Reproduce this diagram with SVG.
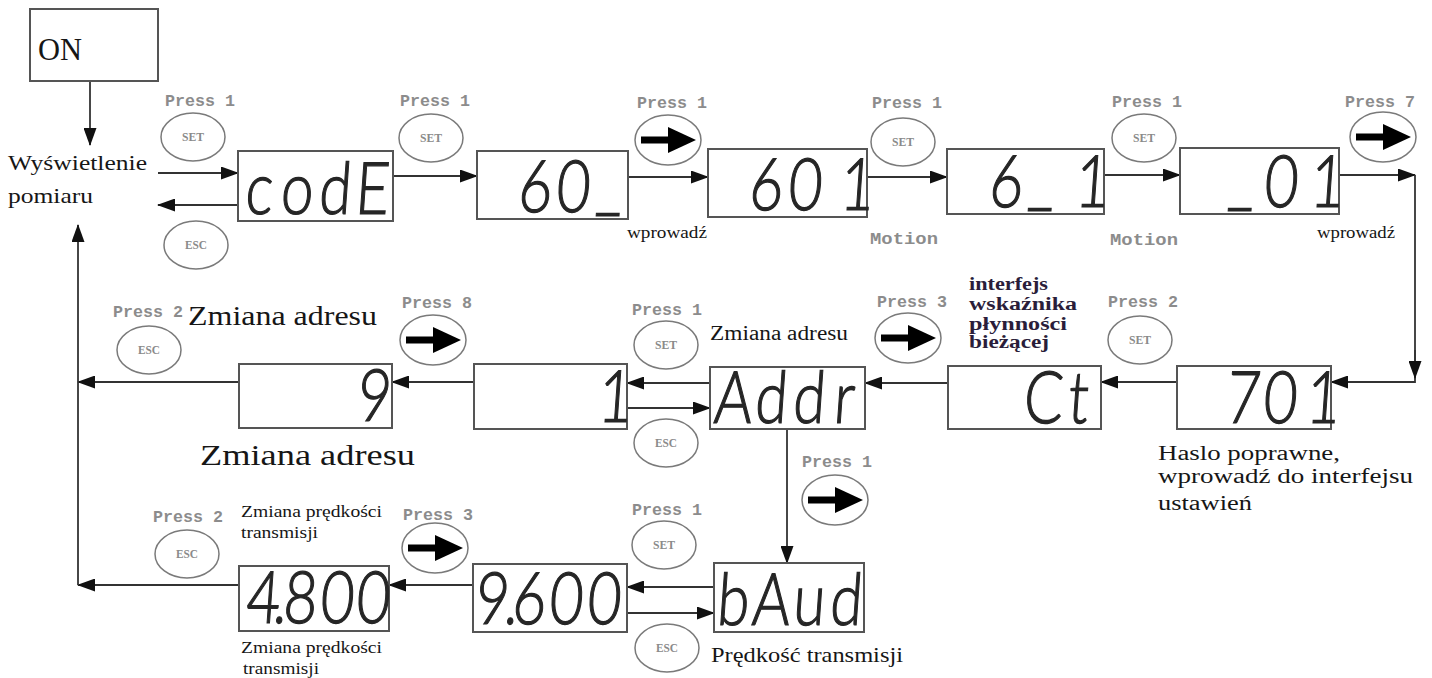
<svg xmlns="http://www.w3.org/2000/svg" width="1432" height="678" viewBox="0 0 1432 678">
  <defs>
    <style>
      .frame { fill: #fff; stroke: #555; stroke-width: 2; }
      .lcd { font-family: Lato, "DejaVu Sans", sans-serif; font-weight: 300; font-size: 58px; fill: #262626; stroke: #262626; stroke-width: 1; text-anchor: middle; }
      .btn { fill: #fff; stroke: #7a7a7a; stroke-width: 1.5; }
      .key { font-family: "Liberation Serif", serif; font-size: 12px; font-weight: bold; fill: #8a8a8a; text-anchor: middle; }
      .press { font-family: "Liberation Mono", monospace; font-size: 16px; font-weight: bold; fill: #8c8c8c; }
      .motion { font-family: "Liberation Mono", monospace; font-size: 17px; font-weight: bold; fill: #8c8c8c; }
      .lbl { font-family: "Liberation Serif", serif; fill: #161616; }
      .bold { font-family: "Liberation Serif", serif; font-weight: bold; fill: #2a1d3a; font-size: 18px; }
      .wire { fill: none; stroke: #333; stroke-width: 1.8; }
      .arr { marker-end: url(#ah); }
      .arrowglyph { fill: #000; }
    </style>
    <marker id="ah" markerUnits="userSpaceOnUse" markerWidth="18" markerHeight="13" refX="17" refY="6.5" orient="auto">
      <path d="M0,0 L18,6.5 L0,13 z" fill="#111"/>
    </marker>
    <!-- round push-buttons -->
    <g id="btnSet"><ellipse class="btn" cx="0" cy="0" rx="32" ry="24"/><text class="key" x="0" y="4" textLength="22" lengthAdjust="spacingAndGlyphs">SET</text></g>
    <g id="btnEsc"><ellipse class="btn" cx="0" cy="0" rx="32" ry="24"/><text class="key" x="0" y="4" textLength="22" lengthAdjust="spacingAndGlyphs">ESC</text></g>
    <g id="btnRight"><ellipse class="btn" cx="0" cy="0" rx="33" ry="25"/><rect class="arrowglyph" x="-27" y="-3.5" width="30" height="7"/><path class="arrowglyph" d="M0,-13 L28,0 L0,13 z"/></g>
  </defs>

  <rect width="1432" height="678" fill="#fff"/>

  <!-- connectors -->
  <g id="connectors">
    <path class="wire arr" d="M90,81 V145"/>
    <path class="wire arr" d="M158,173 H238"/>
    <path class="wire arr" d="M238,205 H158"/>
    <path class="wire arr" d="M393,176 H477"/>
    <path class="wire arr" d="M628,177 H708"/>
    <path class="wire arr" d="M867,177 H947"/>
    <path class="wire arr" d="M1104,175 H1180"/>
    <path class="wire arr" d="M1339,175 H1415"/>
    <path class="wire arr" d="M1415,175 V382 H1331"/>
    <path class="wire arr" d="M1415,350 V378"/>
    <path class="wire arr" d="M1177,382 H1101"/>
    <path class="wire arr" d="M948,383 H865"/>
    <path class="wire arr" d="M710,383 H627"/>
    <path class="wire arr" d="M627,408 H710"/>
    <path class="wire arr" d="M474,382 H392"/>
    <path class="wire arr" d="M239,382 H78"/>
    <path class="wire arr" d="M787,429 V563"/>
    <path class="wire arr" d="M714,587 H627"/>
    <path class="wire arr" d="M627,613 H714"/>
    <path class="wire arr" d="M473,585 H389"/>
    <path class="wire arr" d="M239,585 H78"/>
    <path class="wire arr" d="M78,585 V225"/>
  </g>

  <!-- power on -->
  <g id="node-on">
    <rect class="frame" x="30" y="9" width="128" height="72"/>
    <text class="lbl" x="38" y="60" font-size="32" textLength="44" lengthAdjust="spacingAndGlyphs">ON</text>
  </g>

  <!-- measurement display -->
  <g id="node-measure">
    <text class="lbl" x="8" y="170" font-size="22" textLength="139" lengthAdjust="spacingAndGlyphs">Wyświetlenie</text>
    <text class="lbl" x="8" y="203" font-size="22" textLength="85" lengthAdjust="spacingAndGlyphs">pomiaru</text>
  </g>

  <!-- LCD screens: each glyph centred on its digit cell, slightly slanted -->
  <g id="lcd-code">
    <rect class="frame" x="238" y="151" width="155" height="70"/>
    <g transform="translate(0,214) scale(1,1.25) skewX(-5)"><text class="lcd" x="258 296 334 371" y="0">codE</text></g>
  </g>
  <g id="lcd-60">
    <rect class="frame" x="477" y="151" width="151" height="68"/>
    <g transform="translate(0,212) scale(1,1.25) skewX(-5)"><text class="lcd" x="534 572 608" y="0" dy="0 0 -5">60_</text></g>
  </g>
  <g id="lcd-601">
    <rect class="frame" x="708" y="149" width="159" height="68"/>
    <g transform="translate(0,210) scale(1,1.25) skewX(-5)"><text class="lcd" x="765 804 856" y="0">601</text></g>
  </g>
  <g id="lcd-6_1">
    <rect class="frame" x="947" y="149" width="157" height="65"/>
    <g transform="translate(0,207) scale(1,1.25) skewX(-5)"><text class="lcd" x="1005 1040 1091" y="0" dy="0 -5 5">6_1</text></g>
  </g>
  <g id="lcd-_01">
    <rect class="frame" x="1180" y="148" width="159" height="66"/>
    <g transform="translate(0,207) scale(1,1.25) skewX(-5)"><text class="lcd" x="1240 1280 1326" y="0" dy="-5 5 0">_01</text></g>
  </g>
  <g id="lcd-701">
    <rect class="frame" x="1177" y="366" width="154" height="63"/>
    <g transform="translate(0,423) scale(1,1.25) skewX(-5)"><text class="lcd" x="1242 1279 1322" y="0">701</text></g>
  </g>
  <g id="lcd-ct">
    <rect class="frame" x="948" y="366" width="153" height="63"/>
    <g transform="translate(0,423) scale(1,1.25) skewX(-5)"><text class="lcd" x="1042 1077" y="0">Ct</text></g>
  </g>
  <g id="lcd-addr">
    <rect class="frame" x="710" y="367" width="155" height="62"/>
    <g transform="translate(0,423) scale(1,1.25) skewX(-5)"><text class="lcd" x="732 770 808 843" y="0">Addr</text></g>
  </g>
  <g id="lcd-1">
    <rect class="frame" x="474" y="364" width="153" height="65"/>
    <g transform="translate(0,422) scale(1,1.25) skewX(-5)"><text class="lcd" x="614" y="0">1</text></g>
  </g>
  <g id="lcd-9">
    <rect class="frame" x="239" y="364" width="153" height="64"/>
    <g transform="translate(0,421) scale(1,1.25) skewX(-5)"><text class="lcd" x="373" y="0">9</text></g>
  </g>
  <g id="lcd-baud">
    <rect class="frame" x="714" y="563" width="150" height="69"/>
    <g transform="translate(0,625) scale(1,1.25) skewX(-5)"><text class="lcd" x="732 770 808 845" y="0">bAud</text></g>
  </g>
  <g id="lcd-9600">
    <rect class="frame" x="473" y="564" width="154" height="68"/>
    <g transform="translate(0,624) scale(1,1.25) skewX(-5)"><text class="lcd" x="491 510 528 565 603" y="0">9.600</text></g>
  </g>
  <g id="lcd-4800">
    <rect class="frame" x="239" y="566" width="150" height="65"/>
    <g transform="translate(0,623) scale(1,1.25) skewX(-5)"><text class="lcd" x="262 279 299 336 372" y="0">4.800</text></g>
  </g>

  <!-- keys and press counts, top row -->
  <g id="key-set-1"><text class="press" x="165" y="106" textLength="70" lengthAdjust="spacingAndGlyphs">Press 1</text><use href="#btnSet" x="193" y="137"/></g>
  <g id="key-esc-1"><use href="#btnEsc" x="196" y="245"/></g>
  <g id="key-set-2"><text class="press" x="400" y="106" textLength="70" lengthAdjust="spacingAndGlyphs">Press 1</text><use href="#btnSet" x="431" y="138"/></g>
  <g id="key-right-1"><text class="press" x="637" y="108" textLength="70" lengthAdjust="spacingAndGlyphs">Press 1</text><use href="#btnRight" x="668" y="140"/></g>
  <g id="key-set-3"><text class="press" x="872" y="108" textLength="70" lengthAdjust="spacingAndGlyphs">Press 1</text><use href="#btnSet" x="903" y="142"/></g>
  <g id="key-set-4"><text class="press" x="1112" y="107" textLength="70" lengthAdjust="spacingAndGlyphs">Press 1</text><use href="#btnSet" x="1144" y="138"/></g>
  <g id="key-right-7"><text class="press" x="1345" y="107" textLength="70" lengthAdjust="spacingAndGlyphs">Press 7</text><use href="#btnRight" x="1383" y="137"/></g>

  <!-- middle row -->
  <g id="key-esc-2"><text class="press" x="113" y="317" textLength="70" lengthAdjust="spacingAndGlyphs">Press 2</text><use href="#btnEsc" x="149" y="350"/></g>
  <g id="key-right-8"><text class="press" x="402" y="308" textLength="70" lengthAdjust="spacingAndGlyphs">Press 8</text><use href="#btnRight" x="433" y="340"/></g>
  <g id="key-set-5"><text class="press" x="632" y="315" textLength="70" lengthAdjust="spacingAndGlyphs">Press 1</text><use href="#btnSet" x="666" y="345"/></g>
  <g id="key-esc-3"><use href="#btnEsc" x="666" y="443"/></g>
  <g id="key-right-3"><text class="press" x="877" y="307" textLength="70" lengthAdjust="spacingAndGlyphs">Press 3</text><use href="#btnRight" x="908" y="338"/></g>
  <g id="key-set-6"><text class="press" x="1108" y="307" textLength="70" lengthAdjust="spacingAndGlyphs">Press 2</text><use href="#btnSet" x="1140" y="340"/></g>
  <g id="key-right-1b"><text class="press" x="802" y="467" textLength="70" lengthAdjust="spacingAndGlyphs">Press 1</text><use href="#btnRight" x="835" y="500"/></g>

  <!-- bottom row -->
  <g id="key-esc-4"><text class="press" x="153" y="522" textLength="70" lengthAdjust="spacingAndGlyphs">Press 2</text><use href="#btnEsc" x="187" y="554"/></g>
  <g id="key-right-3b"><text class="press" x="403" y="520" textLength="70" lengthAdjust="spacingAndGlyphs">Press 3</text><use href="#btnRight" x="435" y="548"/></g>
  <g id="key-set-7"><text class="press" x="632" y="515" textLength="70" lengthAdjust="spacingAndGlyphs">Press 1</text><use href="#btnSet" x="664" y="545"/></g>
  <g id="key-esc-5"><use href="#btnEsc" x="667" y="648"/></g>

  <!-- captions -->
  <g id="captions">
    <text class="lbl" x="627" y="238" font-size="16" textLength="80" lengthAdjust="spacingAndGlyphs">wprowadź</text>
    <text class="lbl" x="1317" y="238" font-size="16" textLength="78" lengthAdjust="spacingAndGlyphs">wprowadź</text>
    <text class="motion" x="870" y="244" textLength="68" lengthAdjust="spacingAndGlyphs">Motion</text>
    <text class="motion" x="1110" y="245" textLength="68" lengthAdjust="spacingAndGlyphs">Motion</text>

    <text class="lbl" x="188" y="325" font-size="27" textLength="189" lengthAdjust="spacingAndGlyphs">Zmiana adresu</text>
    <text class="lbl" x="200" y="465" font-size="29" textLength="215" lengthAdjust="spacingAndGlyphs">Zmiana adresu</text>
    <text class="lbl" x="710" y="340" font-size="20" textLength="138" lengthAdjust="spacingAndGlyphs">Zmiana adresu</text>

    <text class="bold" x="969" y="290" textLength="79" lengthAdjust="spacingAndGlyphs">interfejs</text>
    <text class="bold" x="969" y="310" textLength="108" lengthAdjust="spacingAndGlyphs">wskaźnika</text>
    <text class="bold" x="969" y="330" textLength="98" lengthAdjust="spacingAndGlyphs">płynności</text>
    <text class="bold" x="969" y="348" textLength="80" lengthAdjust="spacingAndGlyphs">bieżącej</text>

    <text class="lbl" x="1158" y="460" font-size="20" textLength="182" lengthAdjust="spacingAndGlyphs">Haslo poprawne,</text>
    <text class="lbl" x="1158" y="483" font-size="20" textLength="255" lengthAdjust="spacingAndGlyphs">wprowadź do interfejsu</text>
    <text class="lbl" x="1158" y="510" font-size="20" textLength="94" lengthAdjust="spacingAndGlyphs">ustawień</text>

    <text class="lbl" x="241" y="517" font-size="17" textLength="141" lengthAdjust="spacingAndGlyphs">Zmiana prędkości</text>
    <text class="lbl" x="241" y="538" font-size="17" textLength="77" lengthAdjust="spacingAndGlyphs">transmisji</text>
    <text class="lbl" x="241" y="653" font-size="17" textLength="141" lengthAdjust="spacingAndGlyphs">Zmiana prędkości</text>
    <text class="lbl" x="243" y="674" font-size="17" textLength="76" lengthAdjust="spacingAndGlyphs">transmisji</text>

    <text class="lbl" x="711" y="662" font-size="21" textLength="192" lengthAdjust="spacingAndGlyphs">Prędkość transmisji</text>
  </g>
</svg>
